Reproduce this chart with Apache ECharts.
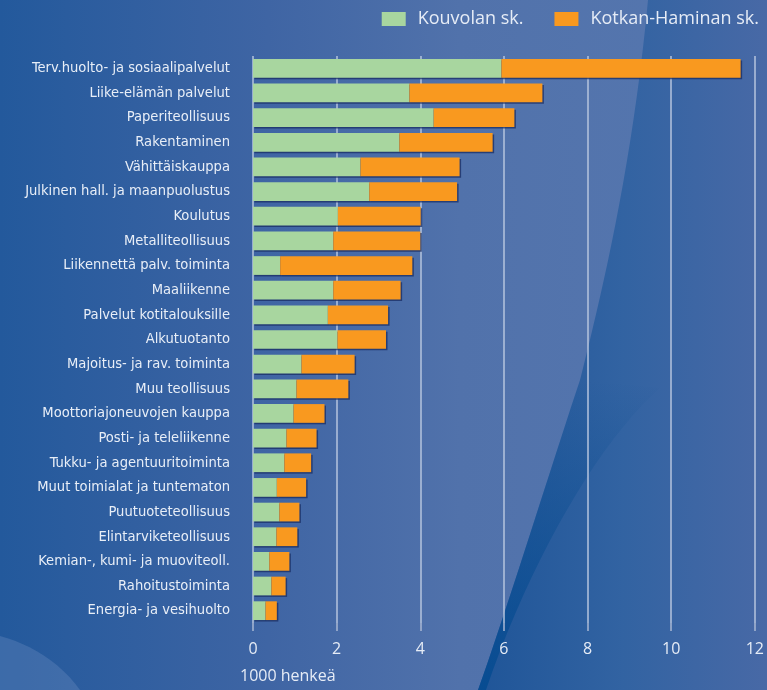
<!DOCTYPE html>
<html>
<head>
<meta charset="utf-8">
<script src="https://cdn.jsdelivr.net/npm/echarts@6/dist/echarts.min.js"></script>
<style>
html,body{margin:0;padding:0;background:#3f65a4;}
#chart{width:767px;height:690px;}
</style>
</head>
<body>
<div id="chart"></div>
<script>
var categories = [
  "Terv.huolto- ja sosiaalipalvelut",
  "Liike-elämän palvelut",
  "Paperiteollisuus",
  "Rakentaminen",
  "Vähittäiskauppa",
  "Julkinen hall. ja maanpuolustus",
  "Koulutus",
  "Metalliteollisuus",
  "Liikennettä palv. toiminta",
  "Maaliikenne",
  "Palvelut kotitalouksille",
  "Alkutuotanto",
  "Majoitus- ja rav. toiminta",
  "Muu teollisuus",
  "Moottoriajoneuvojen kauppa",
  "Posti- ja teleliikenne",
  "Tukku- ja agentuuritoiminta",
  "Muut toimialat ja tuntematon",
  "Puutuoteteollisuus",
  "Elintarviketeollisuus",
  "Kemian-, kumi- ja muoviteoll.",
  "Rahoitustoiminta",
  "Energia- ja vesihuolto"
];
var kouvola = [5.94, 3.74, 4.32, 3.50, 2.57, 2.78, 2.03, 1.92, 0.65, 1.92, 1.79, 2.02, 1.16, 1.04, 0.97, 0.80, 0.75, 0.57, 0.63, 0.56, 0.39, 0.44, 0.30];
var kotkaHamina = [5.72, 3.18, 1.93, 2.23, 2.37, 2.10, 1.98, 2.08, 3.16, 1.61, 1.44, 1.16, 1.27, 1.24, 0.74, 0.72, 0.64, 0.70, 0.48, 0.50, 0.48, 0.34, 0.27];
var xTicks = [0, 2, 4, 6, 8, 10, 12];
var seriesNames = ["Kouvolan sk.", "Kotkan-Haminan sk."];
var unitLabel = "1000 henkeä";

// decorative background curve sampler (not data)
function bez(p0, p1, p2, p3, n) {
  var pts = [];
  for (var i = 0; i <= n; i++) {
    var t = i / n, u = 1 - t;
    pts.push([
      u*u*u*p0[0] + 3*u*u*t*p1[0] + 3*u*t*t*p2[0] + t*t*t*p3[0],
      u*u*u*p0[1] + 3*u*u*t*p1[1] + 3*u*t*t*p2[1] + t*t*t*p3[1]
    ]);
  }
  return pts;
}
var outerCurve = bez([648,0],[632,170],[600,300],[580,380],20).concat(bez([580,380],[550,470],[510,600],[478,690],20).slice(1));
var darkRegion = outerCurve.concat([[767,690],[767,0]]);
var innerCurve = bez([660,388],[600,440],[530,560],[486,690],20);
var bandRegion = bez([580,380],[550,470],[510,600],[478,690],20).concat(innerCurve.slice().reverse());
var lightArc = bez([0,636],[30,644],[60,662],[80,690],12).concat([[0,690]]);

var chart = echarts.init(document.getElementById('chart'));
var LG = echarts.graphic.LinearGradient;
var labelFont = '"Liberation Sans Narrow", "DejaVu Sans Condensed", sans-serif';
var mainFont = '"Open Sans", "Noto Sans", sans-serif';
var barShadow = {shadowColor: 'rgba(25,45,100,0.75)', shadowOffsetX: 1.5, shadowOffsetY: 1.5, shadowBlur: 0};

var option = {
  animation: false,
  backgroundColor: new LG(0, 0, 1, 0, [
    {offset: 0, color: '#23599c'},
    {offset: 0.35, color: '#3f65a4'},
    {offset: 0.6, color: '#5172ab'},
    {offset: 1, color: '#5677af'}
  ]),
  graphic: [
    {
      type: 'polygon', z: -10, silent: true,
      shape: {points: lightArc},
      style: {fill: 'rgba(120,150,200,0.3)'}
    },
    {
      type: 'polygon', z: -10, silent: true,
      shape: {points: darkRegion},
      style: {
        fill: new LG(0, 0, 1, 0, [
          {offset: 0, color: '#1f5598'},
          {offset: 0.5, color: '#3263a2'},
          {offset: 1, color: '#4869a6'}
        ])
      }
    },
    {
      type: 'polygon', z: -9, silent: true,
      shape: {points: bandRegion},
      style: {
        fill: new LG(0, 0, 0, 1, [
          {offset: 0, color: 'rgba(10,77,144,0)'},
          {offset: 1, color: 'rgba(5,75,145,0.9)'}
        ])
      }
    },
    {
      type: 'text', left: 240, top: 668, silent: true,
      style: {text: unitLabel, fill: '#e6ecf6', font: '16px ' + mainFont}
    }
  ],
  legend: {
    data: seriesNames,
    right: 3, top: 5,
    icon: 'rect',
    itemWidth: 24, itemHeight: 14, itemGap: 31,
    textStyle: {color: '#e6ecf6', fontSize: 18, fontFamily: mainFont, padding: [0, 0, 0, 7]}
  },
  grid: {left: 253, right: 12, top: 56, bottom: 67, containLabel: false},
  xAxis: {
    type: 'value', min: 0, max: 12, interval: 2,
    axisLine: {show: false},
    axisTick: {show: true, length: 8, lineStyle: {color: '#a9b8d4', width: 1.5}},
    splitLine: {show: true, lineStyle: {color: '#b6c4de', width: 1.5}},
    axisLabel: {
      color: '#e6ecf6', fontSize: 16, fontFamily: mainFont, margin: 18,
      formatter: function (v) { return xTicks.indexOf(v) >= 0 ? String(v) : ''; }
    }
  },
  yAxis: {
    type: 'category', data: categories, inverse: true,
    axisLine: {show: false}, axisTick: {show: false},
    axisLabel: {color: '#e8eef7', fontSize: 14.6, fontFamily: labelFont, margin: 23}
  },
  series: [
    {
      name: seriesNames[0], type: 'bar', stack: 'total', data: kouvola,
      barCategoryGap: '24%',
      itemStyle: Object.assign({color: '#a8d69f'}, barShadow)
    },
    {
      name: seriesNames[1], type: 'bar', stack: 'total', data: kotkaHamina,
      barCategoryGap: '24%',
      itemStyle: Object.assign({color: '#f9991f'}, barShadow)
    }
  ]
};
chart.setOption(option);
</script>
</body>
</html>
